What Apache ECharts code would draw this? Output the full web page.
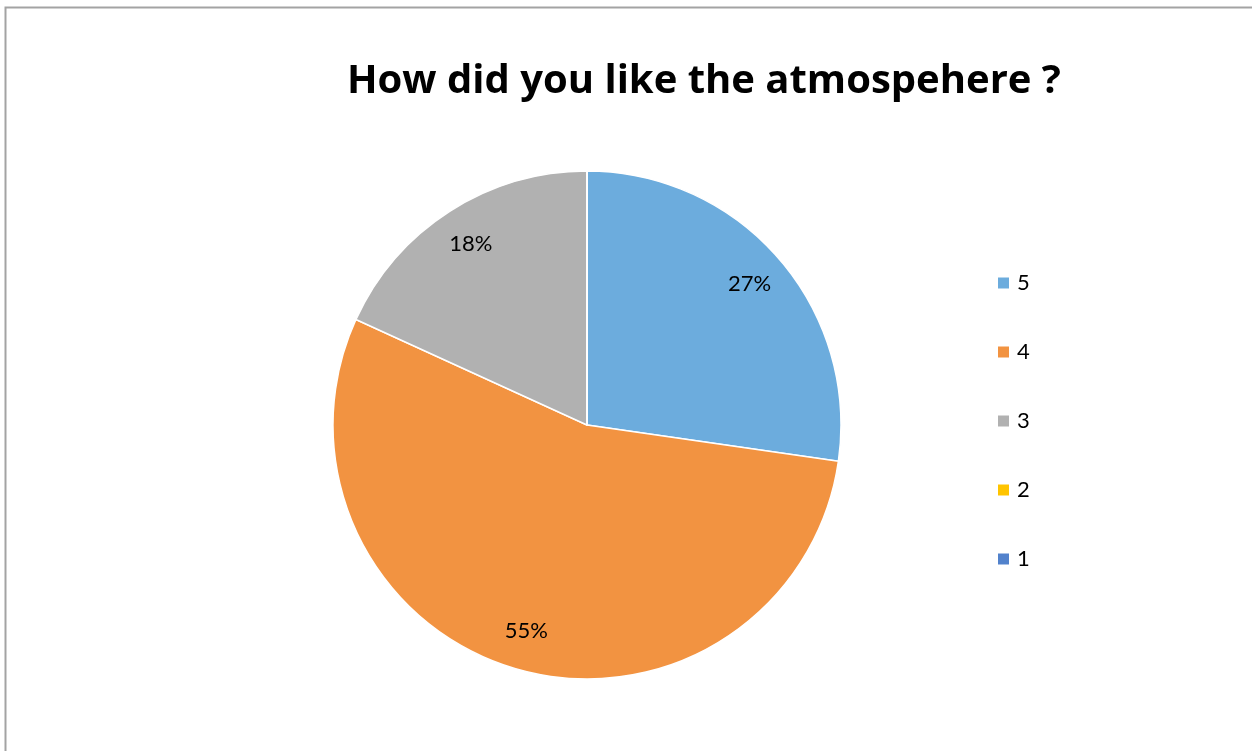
<!DOCTYPE html>
<html>
<head>
<meta charset="utf-8">
<script src="https://cdn.jsdelivr.net/npm/echarts@6/dist/echarts.min.js"></script>
<style>
  html, body { margin: 0; padding: 0; background: #fff; overflow: hidden; }
  #chart { width: 1252px; height: 751px; }
</style>
</head>
<body>
<div id="chart"></div>
<script>
// ratings, from top of the pie going clockwise
const categories = ['5', '4', '3', '2', '1'];
const counts = [3, 6, 2, 0, 0];
const colors = ['#6CACDD', '#F29341', '#B1B1B1', '#FFC400', '#5282CC'];
const titleText = 'How did you like the atmospehere ?';

const total = counts.reduce((a, b) => a + b, 0);
const pieData = categories.map((c, i) => ({ name: c, value: counts[i] }));

const chart = echarts.init(document.getElementById('chart'));

const option = {
  animation: false,
  color: colors,
  title: {
    text: titleText,
    left: 347,
    top: 62,
    padding: 0,
    textStyle: {
      fontFamily: 'Open Sans',
      fontWeight: 'bold',
      fontSize: 40,
      color: '#000'
    }
  },
  legend: {
    orient: 'vertical',
    left: 996,
    top: 272,
    padding: 0,
    itemWidth: 13,
    itemHeight: 13,
    itemGap: 47,
    icon: 'rect',
    data: categories,
    textStyle: { fontFamily: 'Lato', fontSize: 22, color: '#000', padding: [0, 0, 0, 2] }
  },
  graphic: [{
    type: 'polyline',
    shape: { points: [[5.5, 760], [5.5, 7.5], [1260, 7.5]] },
    style: { fill: null, stroke: '#a3a3a3', lineWidth: 2 },
    silent: true
  }],
  series: [
    {
      type: 'pie',
      center: [587, 425],
      radius: [0, 254],
      startAngle: 90,
      clockwise: true,
      data: pieData,
      label: { show: false },
      labelLine: { show: false },
      itemStyle: { borderColor: '#fff', borderWidth: 1.5 }
    },
    {
      // label layer: transparent ring so 'inside' labels land near the rim
      type: 'pie',
      center: [587, 425],
      radius: [170, 254],
      startAngle: 90,
      clockwise: true,
      silent: true,
      legendHoverLink: false,
      data: pieData,
      itemStyle: { color: 'rgba(0,0,0,0)' },
      label: {
        show: true,
        position: 'inside',
        fontFamily: 'Lato',
        fontSize: 22,
        color: '#000',
        formatter: p => p.value ? Math.round(p.value / total * 100) + '%' : ''
      },
      labelLine: { show: false }
    }
  ]
};

chart.setOption(option);
</script>
</body>
</html>
